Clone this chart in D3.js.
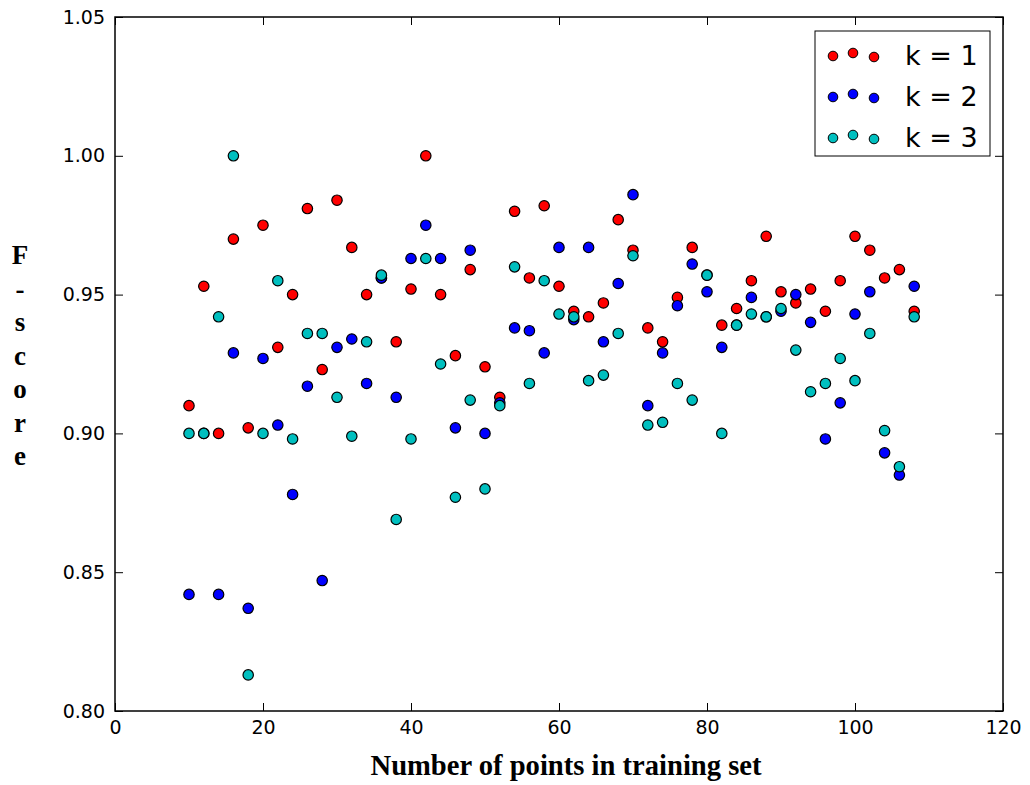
<!DOCTYPE html>
<html lang="en">
    <head>
        <meta charset="UTF-8" />
        <title>F-score vs training set size</title>
        <script src="https://d3js.org/d3.v7.min.js"></script>
        <style>
            body {
                margin: 0;
                background: #fff;
            }
            .tick text {
                font-family: 'DejaVu Sans', sans-serif;
                font-size: 19px;
                fill: #000;
            }
            .axis-title {
                font-family: 'Liberation Serif', 'Times New Roman', serif;
                font-weight: bold;
            }
            .legend text {
                font-family: 'DejaVu Sans', sans-serif;
                font-size: 27px;
            }
        </style>
    </head>
    <body>
        <svg width="1030" height="785"></svg>

        <script>
            // training set sizes (x) and F-scores for each k
            const sizes = [10, 12, 14, 16, 18, 20, 22, 24, 26, 28, 30, 32, 34, 36, 38, 40, 42, 44, 46, 48, 50, 52, 54, 56, 58,
                60, 62, 64, 66, 68, 70, 72, 74, 76, 78, 80, 82, 84, 86, 88, 90, 92, 94, 96, 98, 100, 102, 104, 106, 108];

            const k1 = [0.910, 0.953, 0.900, 0.970, 0.902, 0.975, 0.931, 0.950, 0.981, 0.923, 0.984, 0.967, 0.950, 0.956,
                0.933, 0.952, 1.000, 0.950, 0.928, 0.959, 0.924, 0.913, 0.980, 0.956, 0.982, 0.953, 0.944, 0.942, 0.947,
                0.977, 0.966, 0.938, 0.933, 0.949, 0.967, 0.957, 0.939, 0.945, 0.955, 0.971, 0.951, 0.947, 0.952, 0.944,
                0.955, 0.971, 0.966, 0.956, 0.959, 0.944];

            const k2 = [0.842, 0.900, 0.842, 0.929, 0.837, 0.927, 0.903, 0.878, 0.917, 0.847, 0.931, 0.934, 0.918, 0.956,
                0.913, 0.963, 0.975, 0.963, 0.902, 0.966, 0.900, 0.911, 0.938, 0.937, 0.929, 0.967, 0.941, 0.967, 0.933,
                0.954, 0.986, 0.910, 0.929, 0.946, 0.961, 0.951, 0.931, 0.939, 0.949, 0.942, 0.944, 0.950, 0.940, 0.898,
                0.911, 0.943, 0.951, 0.893, 0.885, 0.953];

            const k3 = [0.900, 0.900, 0.942, 1.000, 0.813, 0.900, 0.955, 0.898, 0.936, 0.936, 0.913, 0.899, 0.933, 0.957,
                0.869, 0.898, 0.963, 0.925, 0.877, 0.912, 0.880, 0.910, 0.960, 0.918, 0.955, 0.943, 0.942, 0.919, 0.921,
                0.936, 0.964, 0.903, 0.904, 0.918, 0.912, 0.957, 0.900, 0.939, 0.943, 0.942, 0.945, 0.930, 0.915, 0.918,
                0.927, 0.919, 0.936, 0.901, 0.888, 0.942];

            const seriesNames = ['k = 1', 'k = 2', 'k = 3'];
            const seriesColors = ['#ff0000', '#0000ff', '#00bfbf'];
            const xTicks = [0, 20, 40, 60, 80, 100, 120];
            const yTicks = [0.8, 0.85, 0.9, 0.95, 1.0, 1.05];

            const svg = d3.select('svg'),
                margin = { top: 17, right: 27, bottom: 74, left: 115 },
                width = +svg.attr('width') - margin.left - margin.right,
                height = +svg.attr('height') - margin.top - margin.bottom;

            const g = svg.append('g').attr('transform', `translate(${margin.left},${margin.top})`);

            const x = d3.scaleLinear().domain([0, 120]).range([0, width]);
            const y = d3.scaleLinear().domain([0.8, 1.05]).range([height, 0]);

            const series = [k1, k2, k3].map((vals, i) => ({
                name: seriesNames[i],
                color: seriesColors[i],
                points: vals.map((v, j) => ({ x: sizes[j], y: v })),
            }));

            // axes, matplotlib style: ticks pointing inwards on all four sides
            const tickLen = 8;
            const styleAxis = (sel) => {
                sel.select('.domain').remove();
                sel.selectAll('.tick line').attr('stroke', '#000').attr('stroke-width', 1);
            };

            g.append('g')
                .attr('transform', `translate(0,${height})`)
                .call(d3.axisBottom(x).tickValues(xTicks).tickSize(-tickLen).tickPadding(10).tickFormat(d3.format('d')))
                .call(styleAxis);

            g.append('g')
                .call(d3.axisTop(x).tickValues(xTicks).tickSize(-tickLen).tickFormat(''))
                .call(styleAxis);

            g.append('g')
                .call(d3.axisLeft(y).tickValues(yTicks).tickSize(-tickLen).tickPadding(10).tickFormat(d3.format('.2f')))
                .call(styleAxis);

            g.append('g')
                .attr('transform', `translate(${width},0)`)
                .call(d3.axisRight(y).tickValues(yTicks).tickSize(-tickLen).tickFormat(''))
                .call(styleAxis);

            g.selectAll('.tick text').attr('font-family', null).attr('font-size', null);

            // points
            series.forEach((s) => {
                g.append('g')
                    .selectAll('circle')
                    .data(s.points)
                    .join('circle')
                    .attr('cx', (d) => x(d.x))
                    .attr('cy', (d) => y(d.y))
                    .attr('r', 5.2)
                    .attr('fill', s.color)
                    .attr('stroke', '#000')
                    .attr('stroke-width', 1.2);
            });

            // frame
            g.append('rect')
                .attr('width', width)
                .attr('height', height)
                .attr('fill', 'none')
                .attr('stroke', '#000')
                .attr('stroke-width', 1.5);

            // axis titles (the original uses a tall, condensed bold serif)
            svg.append('text')
                .attr('class', 'axis-title')
                .attr('x', 566)
                .attr('y', 775)
                .attr('font-size', 30)
                .attr('text-anchor', 'middle')
                .attr('textLength', 391)
                .attr('lengthAdjust', 'spacingAndGlyphs')
                .text('Number of points in training set');

            const yTitle = svg.append('text').attr('class', 'axis-title').attr('font-size', 27).attr('text-anchor', 'middle');
            ['F', '-', 's', 'c', 'o', 'r', 'e'].forEach((ch, i) => {
                yTitle.append('tspan').attr('x', 20).attr('y', 264 + i * 33.5).text(ch);
            });

            // legend
            const legend = svg.append('g').attr('class', 'legend').attr('transform', 'translate(815,31)');
            legend.append('rect').attr('width', 175).attr('height', 125).attr('fill', '#fff').attr('stroke', '#000');

            const markerDx = [18, 38, 59];
            const markerDy = [1, -2, 2];
            series.forEach((s, i) => {
                const row = legend.append('g').attr('transform', `translate(0,${24 + i * 41})`);
                row.selectAll('circle')
                    .data(markerDx)
                    .join('circle')
                    .attr('cx', (d) => d)
                    .attr('cy', (d, j) => markerDy[j])
                    .attr('r', 4.8)
                    .attr('fill', s.color)
                    .attr('stroke', '#000');
                row.append('text').attr('x', 90).attr('y', 10).text(s.name);
            });
        </script>
    </body>
</html>
